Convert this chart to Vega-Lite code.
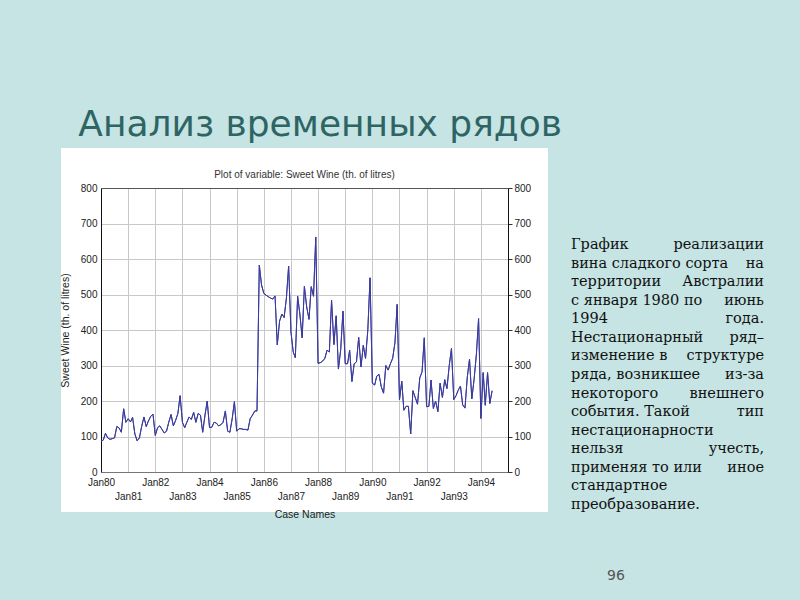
{
  "$schema": "https://vega.github.io/schema/vega-lite/v6.json",
  "background": "#c5e4e3",
  "padding": {"left": 20, "top": 107, "right": 60, "bottom": 40},
  "title": {
    "text": "Анализ временных рядов",
    "font": "DejaVu Sans",
    "fontSize": 36,
    "fontWeight": "normal",
    "color": "#2f6464",
    "anchor": "start",
    "dx": 58,
    "offset": -14
  },
  "datasets": {
    "wine": [
      {"month": "1980-01-01", "value": 87}, {"month": "1980-02-01", "value": 90}, {"month": "1980-03-01", "value": 109}, {"month": "1980-04-01", "value": 96}, {"month": "1980-05-01", "value": 92}, {"month": "1980-06-01", "value": 94}, {"month": "1980-07-01", "value": 96}, {"month": "1980-08-01", "value": 128}, {"month": "1980-09-01", "value": 124}, {"month": "1980-10-01", "value": 112}, {"month": "1980-11-01", "value": 178}, {"month": "1980-12-01", "value": 140},
      {"month": "1981-01-01", "value": 150}, {"month": "1981-02-01", "value": 141}, {"month": "1981-03-01", "value": 154}, {"month": "1981-04-01", "value": 107}, {"month": "1981-05-01", "value": 88}, {"month": "1981-06-01", "value": 96}, {"month": "1981-07-01", "value": 128}, {"month": "1981-08-01", "value": 155}, {"month": "1981-09-01", "value": 128}, {"month": "1981-10-01", "value": 144}, {"month": "1981-11-01", "value": 157}, {"month": "1981-12-01", "value": 163},
      {"month": "1982-01-01", "value": 103}, {"month": "1982-02-01", "value": 125}, {"month": "1982-03-01", "value": 130}, {"month": "1982-04-01", "value": 120}, {"month": "1982-05-01", "value": 110}, {"month": "1982-06-01", "value": 115}, {"month": "1982-07-01", "value": 140}, {"month": "1982-08-01", "value": 162}, {"month": "1982-09-01", "value": 130}, {"month": "1982-10-01", "value": 145}, {"month": "1982-11-01", "value": 165}, {"month": "1982-12-01", "value": 215},
      {"month": "1983-01-01", "value": 140}, {"month": "1983-02-01", "value": 125}, {"month": "1983-03-01", "value": 140}, {"month": "1983-04-01", "value": 155}, {"month": "1983-05-01", "value": 148}, {"month": "1983-06-01", "value": 168}, {"month": "1983-07-01", "value": 140}, {"month": "1983-08-01", "value": 165}, {"month": "1983-09-01", "value": 160}, {"month": "1983-10-01", "value": 112}, {"month": "1983-11-01", "value": 160}, {"month": "1983-12-01", "value": 200},
      {"month": "1984-01-01", "value": 125}, {"month": "1984-02-01", "value": 126}, {"month": "1984-03-01", "value": 140}, {"month": "1984-04-01", "value": 138}, {"month": "1984-05-01", "value": 130}, {"month": "1984-06-01", "value": 133}, {"month": "1984-07-01", "value": 140}, {"month": "1984-08-01", "value": 172}, {"month": "1984-09-01", "value": 115}, {"month": "1984-10-01", "value": 112}, {"month": "1984-11-01", "value": 150}, {"month": "1984-12-01", "value": 198},
      {"month": "1985-01-01", "value": 115}, {"month": "1985-02-01", "value": 122}, {"month": "1985-03-01", "value": 122}, {"month": "1985-04-01", "value": 120}, {"month": "1985-05-01", "value": 120}, {"month": "1985-06-01", "value": 118}, {"month": "1985-07-01", "value": 150}, {"month": "1985-08-01", "value": 160}, {"month": "1985-09-01", "value": 172}, {"month": "1985-10-01", "value": 172}, {"month": "1985-11-01", "value": 583}, {"month": "1985-12-01", "value": 527},
      {"month": "1986-01-01", "value": 503}, {"month": "1986-02-01", "value": 498}, {"month": "1986-03-01", "value": 494}, {"month": "1986-04-01", "value": 490}, {"month": "1986-05-01", "value": 487}, {"month": "1986-06-01", "value": 496}, {"month": "1986-07-01", "value": 358}, {"month": "1986-08-01", "value": 425}, {"month": "1986-09-01", "value": 445}, {"month": "1986-10-01", "value": 435}, {"month": "1986-11-01", "value": 490}, {"month": "1986-12-01", "value": 580},
      {"month": "1987-01-01", "value": 395}, {"month": "1987-02-01", "value": 338}, {"month": "1987-03-01", "value": 322}, {"month": "1987-04-01", "value": 495}, {"month": "1987-05-01", "value": 445}, {"month": "1987-06-01", "value": 378}, {"month": "1987-07-01", "value": 523}, {"month": "1987-08-01", "value": 465}, {"month": "1987-09-01", "value": 430}, {"month": "1987-10-01", "value": 522}, {"month": "1987-11-01", "value": 495}, {"month": "1987-12-01", "value": 662},
      {"month": "1988-01-01", "value": 306}, {"month": "1988-02-01", "value": 308}, {"month": "1988-03-01", "value": 312}, {"month": "1988-04-01", "value": 320}, {"month": "1988-05-01", "value": 343}, {"month": "1988-06-01", "value": 338}, {"month": "1988-07-01", "value": 484}, {"month": "1988-08-01", "value": 359}, {"month": "1988-09-01", "value": 440}, {"month": "1988-10-01", "value": 290}, {"month": "1988-11-01", "value": 345}, {"month": "1988-12-01", "value": 453},
      {"month": "1989-01-01", "value": 305}, {"month": "1989-02-01", "value": 305}, {"month": "1989-03-01", "value": 343}, {"month": "1989-04-01", "value": 255}, {"month": "1989-05-01", "value": 305}, {"month": "1989-06-01", "value": 310}, {"month": "1989-07-01", "value": 379}, {"month": "1989-08-01", "value": 296}, {"month": "1989-09-01", "value": 357}, {"month": "1989-10-01", "value": 320}, {"month": "1989-11-01", "value": 400}, {"month": "1989-12-01", "value": 547},
      {"month": "1990-01-01", "value": 250}, {"month": "1990-02-01", "value": 245}, {"month": "1990-03-01", "value": 270}, {"month": "1990-04-01", "value": 275}, {"month": "1990-05-01", "value": 240}, {"month": "1990-06-01", "value": 222}, {"month": "1990-07-01", "value": 300}, {"month": "1990-08-01", "value": 287}, {"month": "1990-09-01", "value": 305}, {"month": "1990-10-01", "value": 320}, {"month": "1990-11-01", "value": 364}, {"month": "1990-12-01", "value": 472},
      {"month": "1991-01-01", "value": 203}, {"month": "1991-02-01", "value": 256}, {"month": "1991-03-01", "value": 174}, {"month": "1991-04-01", "value": 185}, {"month": "1991-05-01", "value": 185}, {"month": "1991-06-01", "value": 107}, {"month": "1991-07-01", "value": 229}, {"month": "1991-08-01", "value": 210}, {"month": "1991-09-01", "value": 191}, {"month": "1991-10-01", "value": 265}, {"month": "1991-11-01", "value": 282}, {"month": "1991-12-01", "value": 378},
      {"month": "1992-01-01", "value": 184}, {"month": "1992-02-01", "value": 185}, {"month": "1992-03-01", "value": 259}, {"month": "1992-04-01", "value": 179}, {"month": "1992-05-01", "value": 200}, {"month": "1992-06-01", "value": 170}, {"month": "1992-07-01", "value": 250}, {"month": "1992-08-01", "value": 210}, {"month": "1992-09-01", "value": 260}, {"month": "1992-10-01", "value": 235}, {"month": "1992-11-01", "value": 300}, {"month": "1992-12-01", "value": 348},
      {"month": "1993-01-01", "value": 204}, {"month": "1993-02-01", "value": 215}, {"month": "1993-03-01", "value": 230}, {"month": "1993-04-01", "value": 242}, {"month": "1993-05-01", "value": 189}, {"month": "1993-06-01", "value": 180}, {"month": "1993-07-01", "value": 265}, {"month": "1993-08-01", "value": 318}, {"month": "1993-09-01", "value": 206}, {"month": "1993-10-01", "value": 260}, {"month": "1993-11-01", "value": 330}, {"month": "1993-12-01", "value": 432},
      {"month": "1994-01-01", "value": 151}, {"month": "1994-02-01", "value": 280}, {"month": "1994-03-01", "value": 188}, {"month": "1994-04-01", "value": 280}, {"month": "1994-05-01", "value": 193}, {"month": "1994-06-01", "value": 229}
    ],
    "notes": [
      {"line": 1, "left": "График", "right": "реализации"},
      {"line": 2, "left": "вина сладкого сорта", "right": "на"},
      {"line": 3, "left": "территории", "right": "Австралии"},
      {"line": 4, "left": "с января 1980 по", "right": "июнь"},
      {"line": 5, "left": "1994", "right": "года."},
      {"line": 6, "left": "Нестационарный", "right": "ряд–"},
      {"line": 7, "left": "изменение в", "right": "структуре"},
      {"line": 8, "left": "ряда, возникшее", "right": "из-за"},
      {"line": 9, "left": "некоторого", "right": "внешнего"},
      {"line": 10, "left": "события. Такой", "right": "тип"},
      {"line": 11, "left": "нестационарности", "right": ""},
      {"line": 12, "left": "нельзя", "right": "учесть,"},
      {"line": 13, "left": "применяя то или", "right": "иное"},
      {"line": 14, "left": "стандартное", "right": ""},
      {"line": 15, "left": "преобразование.", "right": ""}
    ]
  },
  "spacing": -40,
  "hconcat": [
    {
      "width": 407,
      "height": 284,
      "title": {
        "text": "Plot of variable: Sweet Wine  (th. of litres)",
        "font": "Liberation Sans",
        "fontSize": 10,
        "fontWeight": "normal",
        "color": "#333333",
        "offset": 3
      },
      "view": {"fill": "white", "stroke": "white", "strokeWidth": 80},
      "data": {"name": "wine"},
      "layer": [
        {
          "mark": {"type": "line", "color": "#3b3b9e", "strokeWidth": 1},
          "encoding": {
            "x": {
              "field": "month",
              "type": "temporal",
              "scale": {"type": "utc", "nice": false, "domain": [{"year": 1980, "month": 1, "date": 1, "utc": true}, {"year": 1995, "month": 1, "date": 1, "utc": true}]},
              "axis": {
                "orient": "bottom",
                "tickCount": {"interval": "year", "step": 1},
                "grid": true,
                "gridColor": "#c8c8c8",
                "domainColor": "#777777",
                "ticks": false,
                "labelFont": "Liberation Sans",
                "labelFontSize": 10,
                "labelColor": "#222222",
                "labelPadding": 5,
                "labelLineHeight": 14.5,
                "labelOverlap": false,
                "labelFlush": false,
                "labelBound": false,
                "labelExpr": "utcyear(datum.value) >= 1995 ? '' : (utcyear(datum.value) % 2 == 0 ? utcFormat(datum.value, 'Jan%y') : ['', utcFormat(datum.value, 'Jan%y')])",
                "title": "Case Names",
                "titleFont": "Liberation Sans",
                "titleFontSize": 10.5,
                "titleFontWeight": "normal",
                "titleColor": "#222222",
                "titlePadding": 8
              }
            },
            "y": {
              "field": "value",
              "type": "quantitative",
              "scale": {"domain": [0, 800], "nice": false},
              "axis": {
                "orient": "left",
                "values": [0, 100, 200, 300, 400, 500, 600, 700, 800],
                "grid": true,
                "gridColor": "#c8c8c8",
                "domainColor": "#111111",
                "ticks": false,
                "labelFont": "Liberation Sans",
                "labelFontSize": 10,
                "labelColor": "#222222",
                "labelPadding": 4,
                "title": "Sweet Wine  (th. of litres)",
                "titleFont": "Liberation Sans",
                "titleFontSize": 10.5,
                "titleFontWeight": "normal",
                "titleColor": "#222222",
                "titlePadding": 10
              }
            }
          }
        },
        {
          "mark": {"type": "line", "color": "#3b3b9e", "strokeWidth": 1},
          "encoding": {
            "x": {
              "field": "month",
              "type": "temporal",
              "axis": {"orient": "top", "grid": false, "labels": false, "ticks": false, "title": null, "domainColor": "#555555"}
            },
            "y": {
              "field": "value",
              "type": "quantitative",
              "axis": {
                "orient": "right",
                "values": [0, 100, 200, 300, 400, 500, 600, 700, 800],
                "grid": false,
                "ticks": true,
                "tickSize": 4,
                "tickColor": "#333333",
                "domainColor": "#111111",
                "labelFont": "Liberation Sans",
                "labelFontSize": 10,
                "labelColor": "#222222",
                "labelPadding": 2,
                "title": null
              }
            }
          }
        }
      ],
      "resolve": {"axis": {"x": "independent", "y": "independent"}}
    },
    {
      "width": 193,
      "height": 372,
      "title": {
        "text": "96",
        "orient": "bottom",
        "anchor": "start",
        "font": "DejaVu Sans",
        "fontSize": 14,
        "fontWeight": "normal",
        "color": "#555555",
        "dx": 36,
        "offset": 9
      },
      "data": {"name": "notes"},
      "layer": [
        {
          "mark": {"type": "text", "align": "left", "baseline": "middle", "font": "DejaVu Serif", "fontSize": 14.5, "color": "#111111"},
          "encoding": {
            "y": {"field": "line", "type": "quantitative", "scale": {"domain": [-2.07, 17.96], "reverse": true, "nice": false, "zero": false}, "axis": null},
            "x": {"datum": 0, "type": "quantitative", "scale": {"domain": [0, 1], "nice": false}, "axis": null},
            "text": {"field": "left"}
          }
        },
        {
          "mark": {"type": "text", "align": "right", "baseline": "middle", "font": "DejaVu Serif", "fontSize": 14.5, "color": "#111111"},
          "encoding": {
            "y": {"field": "line", "type": "quantitative", "axis": null},
            "x": {"datum": 1, "type": "quantitative", "axis": null},
            "text": {"field": "right"}
          }
        }
      ]
    }
  ],
  "config": {
    "view": {"stroke": null},
    "title": {"font": "Liberation Sans"}
  }
}
